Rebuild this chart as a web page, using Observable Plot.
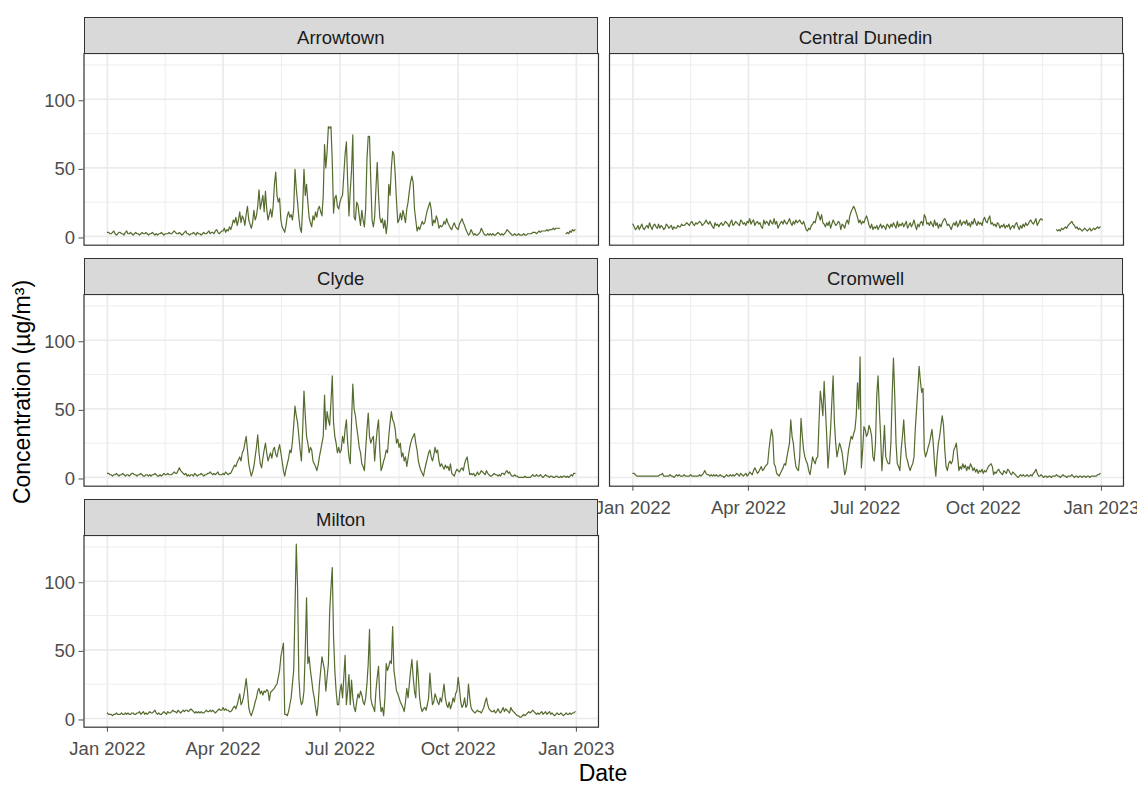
<!DOCTYPE html>
<html><head><meta charset="utf-8">
<script src="https://cdn.jsdelivr.net/npm/d3@7"></script>
<script src="https://cdn.jsdelivr.net/npm/@observablehq/plot@0.6"></script>
<style>
body{margin:0;background:#fff;}
#chart{position:relative;width:1137px;height:785px;overflow:hidden;font-family:"Liberation Sans",Arial,sans-serif;background:#fff;}
.strip{position:absolute;box-sizing:border-box;background:#D9D9D9;border:1.2px solid #333333;color:#1A1A1A;font-size:18.5px;display:flex;align-items:center;justify-content:center;padding-top:6px;}
.panel{position:absolute;overflow:visible;}
.title{position:absolute;color:#000;font-size:23px;white-space:nowrap;transform:translate(-50%,-50%);}
</style></head><body><div id="chart"></div>
<script>
// ---------------- data (daily concentrations, 2022) ----------------
const startDate = "2022-01-01";
const sites = ["Arrowtown", "Central Dunedin", "Clyde", "Cromwell", "Milton"];
const xTicks = ["2022-01-01", "2022-04-01", "2022-07-01", "2022-10-01", "2023-01-01"];
const xTickLabels = ["Jan 2022", "Apr 2022", "Jul 2022", "Oct 2022", "Jan 2023"];
const yTicks = [0, 50, 100];

const arrowtown = [
3,3,2,2,3,4,2,1,2,3, 3,2,2,1,3,4,2,2,3,2, 1,2,3,2,2,1,2,3,2,2, 3,2,1,2,2,3,2,1,2,1,
2,2,3,2,1,2,2,2,3,2, 2,3,4,3,2,2,3,2,1,2, 3,4,2,2,1,2,2,3,2,1, 3,2,2,1,2,3,2,2,3,4,
2,3,3,2,4,5,3,2,3,4,
4,6,3,5,4,7,5,8,12,10, 14,8,12,18,10,15,13,8,16,22, 12,9,6,10,19,12,15,22,34,20,
25,30,18,33,20,12,16,20,14,22, 38,47,30,25,28,12,7,5,3,8, 15,18,14,16,12,20,49,35,25,14,
6,3,22,49,30,38,25,14,10,7, 15,12,18,14,20,22,18,15,30,67, 50,62,80,79,80,55,17,28,30,22,
20,25,28,30,45,60,69,40,15,33, 48,74,14,12,25,23,15,8,19,12, 7,20,56,73,73,40,12,7,14,35,
54,30,14,10,13,6,12,2,10,38, 30,50,62,60,45,26,10,12,17,12, 19,15,10,20,25,33,40,44,39,20,
12,4,7,5,8,11,9,10,15,19, 22,25,20,8,12,10,15,12,6,8, 7,8,11,9,13,10,8,6,5,8,
10,7,6,5,9,11,13,10,8,5,
3,1,2,5,3,1,2,1,1,2, 3,6,4,2,1,1,2,1,2,1, 2,1,1,2,3,2,1,2,1,2, 3,5,4,3,2,1,1,2,1,1,
2,1,1,1,2,1,1,2,2,2, 2,3,3,3,2,3,4,3,4,4, 4,4,5,4,5,5,5,6,5,6, 6,6,6,null,null,null,null,2,3,2,
4,3,5,4,5];

const centralDunedin = [
9,7,5,6,8,5,7,9,6,5, 7,8,6,10,7,5,8,9,7,6, 9,6,8,7,5,6,9,8,6,7, 8,5,7,6,6,8,7,7,9,8,
8,9,10,9,8,10,11,9,8,10, 9,10,11,10,8,9,10,12,10,9, 11,9,7,6,10,8,9,7,9,10, 8,9,11,10,9,7,10,12,8,9,
11,10,9,8,12,11,9,10,8,11,
10,13,9,11,12,8,10,11,9,10, 7,6,12,9,11,10,8,12,10,9, 13,9,11,6,8,10,11,9,12,10,
9,11,13,10,8,11,9,12,10,11, 12,10,9,11,8,5,4,6,5,8, 9,11,10,14,18,15,12,16,10,9,
7,10,8,11,6,9,12,10,8,9, 11,10,5,9,8,6,10,12,9,15, 18,20,22,20,17,14,10,12,9,11,
10,13,15,12,8,6,9,5,7,6, 8,5,7,9,6,8,7,5,9,8, 6,9,7,10,8,6,11,7,9,8,
10,7,9,11,6,8,10,7,9,12, 8,5,9,7,10,11,8,16,14,9, 10,8,11,9,7,12,8,10,6,9,
7,10,12,13,11,8,9,7,5,8, 10,8,11,7,9,12,8,10,11,9, 12,8,10,7,11,9,13,10,8,11,
9,10,8,12,14,11,10,13,15,9,
10,8,9,7,10,9,6,8,7,9, 6,8,7,9,5,7,8,6,9,10, 7,5,8,6,9,7,10,8,9,11, 12,10,9,11,13,8,10,12,13,12,
null,null,null,null,null,null,null,null,null,null, 5,4,5,4,6,5,6,7,6,8, 9,10,11,9,8,6,7,5,6,5,
4,5,6,5,4,5,6,4,5,6, 5,6,7,6,7];

const clyde = [
3,3,2,2,1,2,2,3,2,1, 2,2,3,2,1,2,2,1,2,3, 3,2,2,1,2,2,3,2,1,1, 2,2,1,2,1,2,2,3,2,1,
1,2,1,2,3,2,2,3,2,2, 2,3,4,3,3,5,7,5,4,3, 2,3,1,2,1,2,2,1,3,2, 1,2,2,3,2,1,2,2,3,3,
4,3,2,3,2,3,4,2,2,2,
3,2,4,3,2,3,3,5,7,9, 8,11,13,15,12,18,20,25,30,20, 10,5,1,4,8,15,22,31,18,10,
7,14,20,25,18,12,15,18,14,20, 22,17,15,20,24,18,12,5,1,6, 10,14,20,18,26,38,52,45,40,30,
20,12,35,63,45,30,25,18,22,20, 12,10,8,5,9,15,20,25,30,60, 35,48,42,38,55,74,40,30,25,18,
22,18,20,30,25,35,42,25,15,10, 40,68,50,45,37,30,22,18,10,8, 5,20,35,47,30,25,28,30,12,25,
35,42,20,5,8,12,15,20,18,30, 40,48,42,40,35,25,28,22,25,15, 18,12,15,8,14,20,25,28,30,32,
25,20,12,8,5,3,1,6,10,14, 18,20,15,12,16,22,18,20,12,8, 10,8,6,9,7,8,5,10,3,2,
1,4,6,5,4,6,7,5,10,13,
15,8,2,3,2,3,1,2,4,2, 3,5,4,3,2,5,3,2,1,1, 2,3,2,2,1,2,1,3,3,2, 4,5,3,4,2,1,1,2,1,1,
0,0,0,0,0,1,0,0,0,0, 1,2,1,1,2,1,1,2,1,0, 1,2,1,1,0,1,1,0,0,1, 1,0,0,1,0,1,1,0,1,0,
1,2,1,3,3];

const cromwell = [
3,3,2,1,1,1,1,1,1,1, 1,1,1,1,1,1,1,1,1,1, 1,2,2,3,1,1,1,1,1,2, 1,1,0,1,2,1,2,1,1,1,
2,1,1,1,1,2,1,1,1,1, 1,1,2,1,2,3,5,3,2,2, 1,2,1,2,1,2,1,1,2,1, 1,0,1,2,1,1,2,1,2,1,
2,3,2,1,3,2,1,2,3,1,
2,4,3,2,5,7,5,3,4,6, 8,5,6,8,9,10,20,28,35,30, 10,8,3,2,1,3,5,7,10,9,
15,20,25,42,30,25,15,8,6,5, 15,43,30,20,15,12,10,5,2,8, 15,12,10,14,15,40,63,55,45,70,
50,30,7,20,35,55,74,40,25,15, 20,25,22,18,10,2,5,12,20,25, 30,28,32,35,45,69,50,88,7,20,
37,35,30,32,38,35,30,15,12,25, 60,74,50,30,5,20,38,15,12,10, 10,25,60,87,60,25,10,8,5,20,
30,42,25,15,12,8,5,8,10,15, 35,50,65,81,70,62,65,20,15,18, 22,25,30,35,25,10,1,15,25,30,
38,45,38,20,8,5,10,12,10,12, 20,22,25,15,5,8,6,10,7,9, 5,8,6,10,8,5,7,4,6,3,
5,4,6,3,5,4,6,8,9,10,
8,2,4,3,5,6,4,3,2,5, 4,3,6,5,3,2,4,3,2,1, 0,1,2,1,2,1,1,2,1,1, 2,1,3,4,6,3,1,1,2,1,
0,1,1,0,1,1,0,1,1,1, 2,1,1,0,1,2,1,1,0,1, 1,1,2,1,0,1,1,0,1,1, 0,1,1,0,1,1,0,1,1,1,
1,1,2,2,3];

const milton = [
4,3,3,3,2,3,3,4,3,3, 3,4,3,3,4,3,4,3,3,4, 4,3,3,4,4,5,3,4,5,3, 4,3,4,5,4,4,5,6,4,3,
4,3,3,4,5,4,3,5,4,4, 5,6,5,5,4,6,5,4,5,6, 5,6,6,5,6,7,6,5,4,5, 4,5,4,5,4,4,5,6,5,5,
6,5,6,5,4,5,6,7,6,6,
8,6,7,6,6,5,5,6,8,9, 7,10,14,18,10,12,16,22,29,20, 8,4,2,5,8,12,15,20,22,18,
20,17,20,19,21,20,13,19,20,21, 22,24,25,30,35,45,50,55,3,3, 2,5,10,15,25,35,80,127,95,30,
15,10,12,20,50,88,40,45,35,28, 20,15,8,2,10,25,35,45,40,35, 20,30,40,78,95,110,60,35,20,10,
10,20,25,15,30,46,10,20,32,10, 28,15,8,5,12,18,15,20,17,12, 10,15,25,40,65,15,10,8,5,20,
30,38,15,5,8,2,15,40,35,38, 42,40,67,35,28,20,18,15,12,10, 8,5,12,22,15,25,35,43,30,20,
15,42,30,15,8,5,7,8,6,10, 15,33,20,10,12,18,15,12,10,15, 12,18,25,15,10,8,12,7,10,15,
12,18,20,30,22,12,8,10,15,8,
10,25,15,8,6,5,4,5,6,5, 5,4,6,8,12,15,10,7,6,5, 5,6,4,5,7,5,4,6,8,5, 7,6,5,4,8,6,5,4,3,2,
2,1,1,2,3,2,3,4,5,4, 5,6,5,4,3,4,3,4,5,3, 4,5,3,4,5,3,4,3,2,3, 4,3,3,4,3,2,3,4,3,3,
4,3,4,4,5];

const siteValues = [arrowtown, centralDunedin, clyde, cromwell, milton];

// ---------------- layout & style ----------------
const colX = [83.5, 608.5], colW = [514.5, 514];
const rowTop = [16.7, 257.7, 498.7];
const stripH = 36.6, panelH = 191.7;
const lineColor = "#556B2F";
const font = '"Liberation Sans", Arial, sans-serif';

// ---------------- scales shared by all facets (ggplot fixed scales, 5% expansion) ----------------
const start = new Date(startDate);
const dates = arrowtown.map((_, i) => d3.utcDay.offset(start, i));
const x0 = dates[0], x1 = dates[dates.length - 1];
const xSpan = x1 - x0;
const xDomain = [new Date(+x0 - 0.05 * xSpan), new Date(+x1 + 0.05 * xSpan)];
const allVals = siteValues.flat().filter(v => v != null);
const yMin = d3.min(allVals), yMax = d3.max(allVals);
const yDomain = [yMin - 0.05 * (yMax - yMin), yMax + 0.05 * (yMax - yMin)];

const xMajor = xTicks.map(s => new Date(s));
const xMinor = d3.pairs(xMajor).map(([a, b]) => new Date((+a + +b) / 2));
const yStep = yTicks[1] - yTicks[0];
const yMinor = [yTicks[0] - yStep / 2, ...yTicks.map(t => t + yStep / 2)]
  .filter(v => v >= yDomain[0] && v <= yDomain[1]);

const chart = document.getElementById("chart");

sites.forEach((site, i) => {
  const col = i % 2, row = Math.floor(i / 2);
  const showY = col === 0;
  const showX = (i === 3 || i === 4);
  const data = siteValues[i].map((v, k) => ({date: dates[k], value: v}));
  const ml = col === 0 ? colX[0] : 0;
  const mb = showX ? 48 : 0;
  const w = colW[col];

  const marks = [
    Plot.ruleY(yMinor, {stroke: "#EBEBEB", strokeWidth: 0.9}),
    Plot.ruleX(xMinor, {stroke: "#EBEBEB", strokeWidth: 0.9}),
    Plot.ruleY(yTicks, {stroke: "#EBEBEB", strokeWidth: 1.7}),
    Plot.ruleX(xMajor, {stroke: "#EBEBEB", strokeWidth: 1.7}),
    Plot.line(data, {x: "date", y: "value", stroke: lineColor, strokeWidth: 1.2}),
    Plot.frame({stroke: "#333333", strokeWidth: 1.2})
  ];
  if (showY) marks.push(Plot.axisY({ticks: yTicks, tickSize: 5, tickPadding: 4, fontSize: 18.5, color: "#4D4D4D", label: null, dy: 1.5}));
  if (showX) marks.push(Plot.axisX({ticks: xMajor, tickFormat: (d) => xTickLabels[xMajor.findIndex(t => +t === +d)], tickSize: 5, tickPadding: 10, fontSize: 18.5, color: "#4D4D4D", label: null}));

  const svg = Plot.plot({
    width: ml + w,
    height: panelH + mb,
    marginLeft: ml, marginRight: 0, marginTop: 0, marginBottom: mb,
    x: {type: "utc", domain: xDomain, axis: null},
    y: {domain: yDomain, axis: null},
    style: {fontFamily: font, fontSize: "18.5px", background: "transparent", overflow: "visible"},
    marks
  });
  svg.classList.add("panel");
  svg.style.left = (col === 0 ? 0 : colX[1]) + "px";
  svg.style.top = (rowTop[row] + stripH) + "px";
  chart.appendChild(svg);
});

// strips drawn after the panels (ggplot draws strips on top)
sites.forEach((site, i) => {
  const col = i % 2, row = Math.floor(i / 2);
  const strip = document.createElement("div");
  strip.className = "strip";
  strip.style.left = colX[col] + "px";
  strip.style.top = rowTop[row] + "px";
  strip.style.width = colW[col] + "px";
  strip.style.height = (stripH + 0.6) + "px";
  strip.textContent = site;
  chart.appendChild(strip);
});

const xTitle = document.createElement("div");
xTitle.className = "title";
xTitle.textContent = "Date";
xTitle.style.left = "603px";
xTitle.style.top = "773px";
chart.appendChild(xTitle);

const yTitle = document.createElement("div");
yTitle.className = "title";
yTitle.textContent = "Concentration (µg/m³)";
yTitle.style.left = "22px";
yTitle.style.top = "392px";
yTitle.style.transform = "translate(-50%,-50%) rotate(-90deg)";
chart.appendChild(yTitle);
</script></body></html>
